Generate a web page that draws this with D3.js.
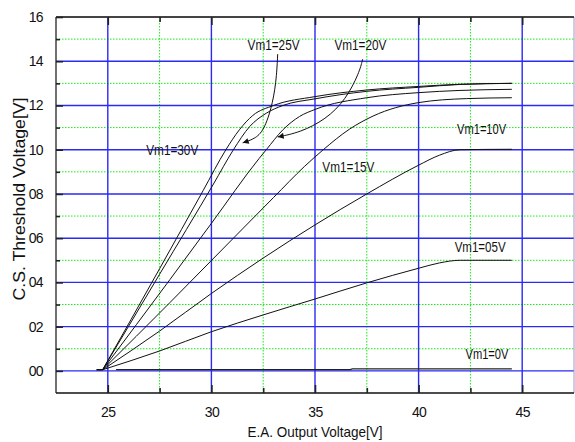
<!DOCTYPE html>
<html><head><meta charset="utf-8">
<script src="https://cdn.jsdelivr.net/npm/d3@7"></script>
<style>
html,body{margin:0;padding:0;background:#fff;}
svg{display:block;font-family:"Liberation Sans",Arial,sans-serif;}
</style></head>
<body><svg id="chart" width="575" height="442"></svg>
<script>
// ---- data ----
const xMajorTicks = [25, 30, 35, 40, 45];
const xMinorTicks = [27.5, 32.5, 37.5, 42.5];
const xTickLabels = ["25", "30", "35", "40", "45"];
const yMajorTicks = [0, 2, 4, 6, 8, 10, 12, 14, 16];
const yMinorTicks = [1, 3, 5, 7, 9, 11, 13, 15];
const yTickLabels = ["00", "02", "04", "06", "08", "10", "12", "14", "16"];

const seriesNames = ["Vm1=30V", "Vm1=25V", "Vm1=20V", "Vm1=15V", "Vm1=10V", "Vm1=05V", "Vm1=0V"];
const vm30 = [[24.75,0.05],[27.5,4.62],[29.6,8.15],[30.7,10.0],[31.35,10.9],[32.0,11.55],[33.0,12.0],[35,12.4],[37.5,12.7],[40,12.86],[42,12.96],[44.5,13.0]];
const vm25 = [[24.75,0.05],[27.5,4.37],[30.1,8.45],[31.05,9.98],[31.85,11.05],[32.65,11.65],[33.45,12.0],[35,12.3],[37.5,12.64],[40,12.82],[42,12.95],[44.5,13.0]];
const vm20 = [[24.75,0.05],[28,4.13],[30,6.67],[32.3,9.6],[32.65,10.0],[33.45,10.9],[34.25,11.5],[35,11.82],[37.5,12.35],[40,12.58],[42,12.68],[44.5,12.73]];
const vm15 = [[24.75,0.05],[28,3.09],[30,4.99],[33,7.84],[34.5,9.25],[35.4,10.0],[36.65,10.92],[37.8,11.52],[40,12.13],[42.3,12.31],[44.5,12.35]];
const vm10 = [[24.75,0.05],[27.5,1.8],[30,3.5],[32.5,5.1],[35,6.6],[37.5,8.0],[40,9.3],[41,9.75],[42,10.0],[44.5,10.02]];
const vm05 = [[24.75,0.05],[27.5,0.9],[30,1.77],[32.5,2.53],[35,3.25],[37.5,3.98],[40,4.64],[41,4.88],[42,5.0],[44.5,5.0]];
const vm00 = [[25.4,0.06],[36.7,0.06],[36.8,0.09],[44.5,0.09]];
const leadIn = [[24.45,0.05],[24.75,0.05]];

const labelX = [28.11, 33.0, 37.19, 36.61, 43.04, 42.97, 43.3];
const labelY = [9.78, 14.5, 14.5, 9.01, 10.69, 5.38, 0.53];

const arrow25 = [[33.2,14.32],[33.13,13.03],[32.89,11.82],[32.48,10.77],[32.0,10.46],[31.51,10.31]];
const arrow20 = [[37.3,14.09],[37.14,13.49],[36.5,12.28],[35.53,11.37],[34.25,10.77],[33.2,10.58]];

const xTitle = "E.A. Output Voltage[V]";
const yTitle = "C.S. Threshold Voltage[V]";

// ---- layout ----
const svg = d3.select("#chart");
const L = 56, R = 574, T = 17, B = 393;
const x = d3.scaleLinear().domain([22.5, 47.5]).range([L, R]);
const y = d3.scaleLinear().domain([-1, 16]).range([B, T]);

// minor grid (green dotted)
const g = svg.append("g");
g.selectAll(".vmin").data(xMinorTicks).join("line")
  .attr("x1", d => x(d)).attr("x2", d => x(d)).attr("y1", T).attr("y2", B)
  .attr("stroke", "#10ee10").attr("stroke-width", 1).attr("stroke-dasharray", "1.5,1.5");
g.selectAll(".hmin").data(yMinorTicks).join("line")
  .attr("x1", L).attr("x2", R).attr("y1", d => y(d)).attr("y2", d => y(d))
  .attr("stroke", "#10ee10").attr("stroke-width", 1).attr("stroke-dasharray", "1.5,1.5");
// major grid (blue)
g.selectAll(".vmaj").data(xMajorTicks).join("line")
  .attr("x1", d => x(d)).attr("x2", d => x(d)).attr("y1", T).attr("y2", B)
  .attr("stroke", "#2a2af2").attr("stroke-width", 1.4);
g.selectAll(".hmaj").data(yMajorTicks).join("line")
  .attr("x1", L).attr("x2", R).attr("y1", d => y(d)).attr("y2", d => y(d))
  .attr("stroke", "#2a2af2").attr("stroke-width", 1.4);

// frame
svg.append("line").attr("x1", R).attr("x2", R).attr("y1", T).attr("y2", B).attr("stroke", "#9a9ad0").attr("stroke-width", 1);
svg.append("line").attr("x1", L).attr("x2", R).attr("y1", T).attr("y2", T).attr("stroke", "#444").attr("stroke-width", 2);
svg.append("line").attr("x1", L).attr("x2", R).attr("y1", B).attr("y2", B).attr("stroke", "#111").attr("stroke-width", 1.6);
svg.append("line").attr("x1", L).attr("x2", L).attr("y1", T).attr("y2", B).attr("stroke", "#111").attr("stroke-width", 1.2);

// axes ticks
const xAxisB = d3.axisBottom(x).tickValues(xMajorTicks).tickSize(-8).tickPadding(14)
  .tickFormat((d, i) => xTickLabels[i]);
const gx = svg.append("g").attr("transform", `translate(0,${B})`).call(xAxisB);
gx.select(".domain").remove();
gx.selectAll(".tick line").attr("stroke", "#222").attr("stroke-width", 1.6);
gx.selectAll(".tick text").attr("font-size", 14).attr("fill", "#111").attr("letter-spacing", "-0.6px");
const gxm = svg.append("g").attr("transform", `translate(0,${B})`)
  .call(d3.axisBottom(x).tickValues(xMinorTicks).tickSize(-5).tickFormat(""));
gxm.select(".domain").remove();
gxm.selectAll(".tick line").attr("stroke", "#222").attr("stroke-width", 1.6);
const gxt = svg.append("g").attr("transform", `translate(0,${T})`)
  .call(d3.axisTop(x).tickValues(xMajorTicks).tickSize(-8).tickFormat(""));
gxt.select(".domain").remove();
gxt.selectAll(".tick line").attr("stroke", "#222").attr("stroke-width", 1.6);
const gxtm = svg.append("g").attr("transform", `translate(0,${T})`)
  .call(d3.axisTop(x).tickValues(xMinorTicks).tickSize(-5).tickFormat(""));
gxtm.select(".domain").remove();
gxtm.selectAll(".tick line").attr("stroke", "#222").attr("stroke-width", 1.6);

const gy = svg.append("g").attr("transform", `translate(${L},0)`)
  .call(d3.axisLeft(y).tickValues(yMajorTicks).tickSize(-7).tickPadding(13)
    .tickFormat((d, i) => yTickLabels[i]));
gy.select(".domain").remove();
gy.selectAll(".tick line").attr("stroke", "#222").attr("stroke-width", 1.6);
gy.selectAll(".tick text").attr("font-size", 14).attr("fill", "#111").attr("letter-spacing", "-0.6px");
const gym = svg.append("g").attr("transform", `translate(${L},0)`)
  .call(d3.axisLeft(y).tickValues(yMinorTicks).tickSize(-4).tickFormat(""));
gym.select(".domain").remove();
gym.selectAll(".tick line").attr("stroke", "#222").attr("stroke-width", 1.6);

// curves
const line = d3.line().x(d => x(d[0])).y(d => y(d[1])).curve(d3.curveMonotoneX);
const lineLin = d3.line().x(d => x(d[0])).y(d => y(d[1]));
const curves = [vm30, vm25, vm20, vm15, vm10, vm05];
svg.selectAll(".curve").data(curves).join("path")
  .attr("d", line).attr("fill", "none").attr("stroke", "#111").attr("stroke-width", 1);
svg.append("path").attr("d", lineLin(vm00)).attr("fill", "none").attr("stroke", "#222").attr("stroke-width", 1.2);
svg.append("path").attr("d", lineLin(leadIn)).attr("fill", "none").attr("stroke", "#111").attr("stroke-width", 1.6);

// arrows
svg.append("defs").append("marker").attr("id", "ah")
  .attr("viewBox", "0 0 10 10").attr("refX", 10).attr("refY", 5)
  .attr("markerWidth", 9).attr("markerHeight", 6).attr("markerUnits", "userSpaceOnUse")
  .attr("orient", "auto")
  .append("path").attr("d", "M0,0 L10,5 L0,10 Z").attr("fill", "#111");
const arrowLine = d3.line().x(d => x(d[0])).y(d => y(d[1])).curve(d3.curveBasis);
svg.selectAll(".arrow").data([arrow25, arrow20]).join("path")
  .attr("d", arrowLine).attr("fill", "none").attr("stroke", "#111").attr("stroke-width", 1)
  .attr("marker-end", "url(#ah)");

// labels
const labelW = [52, 52, 52, 52, 49, 51, 43];
svg.selectAll(".lbl").data(seriesNames).join("text")
  .attr("x", (d, i) => x(labelX[i]) - labelW[i] / 2).attr("y", (d, i) => y(labelY[i]))
  .attr("font-size", 15).attr("fill", "#111")
  .attr("textLength", (d, i) => labelW[i]).attr("lengthAdjust", "spacingAndGlyphs")
  .text(d => d);

// titles
svg.append("text").attr("x", (L + R) / 2).attr("y", 437).attr("text-anchor", "middle")
  .attr("font-size", 15).attr("fill", "#111")
  .attr("textLength", 135).attr("lengthAdjust", "spacingAndGlyphs").text(xTitle);
svg.append("text").attr("transform", `translate(25,${(T + B) / 2 - 6}) rotate(-90)`)
  .attr("text-anchor", "middle").attr("font-size", 17).attr("fill", "#111")
  .attr("textLength", 203).attr("lengthAdjust", "spacingAndGlyphs")
  .text(yTitle);
</script></body></html>
